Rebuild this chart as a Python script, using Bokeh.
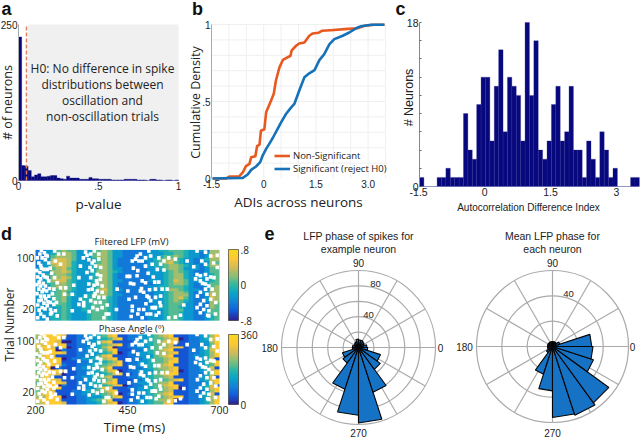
import numpy as np
from bokeh.embed import file_html
from bokeh.resources import INLINE
from bokeh.plotting import figure
from bokeh.layouts import column, row
from bokeh.models import (Range1d, FixedTicker, Label, LinearColorMapper, ColorBar,
                          Legend, LegendItem, BoxAnnotation)

# ---------- data ----------
pvalue_counts = [230,24,23,16,6,9,11,6,6,7,8,8,4,3,2,7,4,4,4,2,2,2,5,3,3,2,2,2,2,1,
                 1,1,1,2,2,2,2,1,1,1,0,2,2,1,1,0,1,1,0,1]
nonsig_adi = [-1.47,-1.08,-0.99,-0.70,-0.60,-0.51,-0.41,-0.36,-0.24,-0.19,-0.12,-0.08,0.02,0.07,0.21,0.29,0.35,
              0.45,0.55,0.77,0.80,0.93,1.02,1.17,1.31,1.41,1.57,1.67,1.93,2.32,2.70,2.89,3.18,3.47]
nonsig_cdf = [0,0,.013,.015,.04,.08,.095,.138,.145,.21,.22,.31,.32,.43,.505,.55,.635,
              .72,.77,.797,.83,.862,.877,.883,.927,.942,.946,.959,.963,.97,.976,.991,.998,.998]
sig_adi = [-1.47,-0.60,-0.46,-0.36,-0.22,-0.10,-0.03,0.07,0.16,0.26,0.40,0.50,0.64,0.79,0.88,1.02,1.17,1.31,
           1.46,1.60,1.74,1.89,2.03,2.27,2.46,2.70,2.80,3.08,3.47]
sig_cdf = [0,.004,.026,.056,.078,.106,.149,.192,.225,.263,.322,.365,.419,.462,.484,.57,.657,.683,
           .704,.769,.808,.873,.905,.927,.948,.981,.989,.998,.998]
adi_counts = [1,0,0,0,1,1,2,1,1,1,8,4,3,9,12,12,5,11,15,6,12,11,10,5,18,10,16,4,3,5,9,11,5,6,11,
              4,4,1,5,3,1,6,4,1,2,0,0,0,1,1]
lfp_rows = [
"223356553335565332222233445554333266","223456653335665332222233344554332366",
"223566653335665332222333455654332376","233677653334565322222334566543323466",
"233777643334565322222234567543323365","233677643334665322222334456654332466",
"333567543334565332222233456653332355","333667643344665432222233345654322355",
"334566543334565322222233345664323345","333667643334565322222223345664333345",
"334677543334565332222233345765333345","334566543344665322222223345665323355",
"333566543334565322222233445554322356","333456543334675332222233346654332366",
"333456433334565322222223345665323366","333556543345665332222223345666322376",
"333456433445554322222223345675322376","333456433445554322222233345654322366",
"333355433445554322222223345553322265","333345433445554322222233445543322265",
"333345433445554322222233345553322355","333345433345554322222223345543322355",
"333445433345554322222233345543322345","333445433345554322222233345543322345"]
phase_rows = [
"678887112233457811223345678111223468","668882112233345781223345567801223478",
"678870012233578111123345678811223368","778888112223456781223345667111222358",
"788718012233468011223335567881223468","678802112234457811122345678111223478",
"668887112233345801223345667811223468","578711112233578111223335678111233468",
"678880122334567811122345567811223471","668881112223345681223345568811223568",
"578872112234456781223345678111223458","678021122334568111122345667811223471",
"568887112233457801223335567801223468","678870112234345781122345678811222468",
"578111122334567111223345567111223471","668871112233456811122345456781223478",
"578887112234467811223335668111222368","678802112234345780122345678811223471",
"668881112233578111223345567801223478","578711122345567811123345567111222368",
"678811122334456801223345678111223471","668880112233345781122335567881223468",
"788871112234568111223345668011223468","678887112233467801223345578111223468"]
spike_time = [212,224,232,218,227,214,223,232,212,203,221,232,214,221,214,227,209,218,230,214,224,236,209,223,234,
  218,232,250,257,214,223,241,254,259,241,252,259,268,250,282,304,300,279,277,263,268,254,252,
  205,209,216,206,226,210,236,204,222,238,204,228,216,206,226,240,210,244,206,232,236,240,244,228,216,246,250,
  330,336,350,360,372,345,359,372,322,348,363,377,340,354,368,377,350,318,345,359,368,381,354,368,381,336,359,372,
  322,331,350,363,318,300,331,368,381,395,420,399,386,422,340,354,366,344,362,376,386,356,376,346,392,
  463,472,481,490,499,476,485,508,513,499,517,449,456,476,467,490,499,451,485,494,503,508,454,513,463,481,494,463,
  478,503,517,513,523,535,549,562,580,612,630,662,540,531,549,535,544,558,526,526,540,535,562,580,603,594,
  466,458,478,506,520,488,472,526,540,500,528,538,460,490,510,524,
  639,662,676,694,639,648,662,666,635,648,662,671,685,680,662,648,666,685,676,657,648,666,639,657,671,648,671,689,694,
  654,640,676,690,652,684,668]
spike_trial = [106,108,103,100,97,88,82,82,77,80,73,69,67,60,56,56,51,47,48,40,40,40,33,29,31,
  22,25,27,30,12,8,19,17,9,12,69,61,53,51,53,57,43,43,106,106,90,95,111,
  100,92,84,70,70,62,64,58,50,52,44,36,34,26,20,30,18,14,6,4,92,84,76,104,112,44,36,
  100,109,106,111,106,97,95,98,87,85,87,85,77,80,74,72,69,69,59,57,59,56,51,48,46,40,40,38,
  35,30,33,30,27,17,25,19,22,26,19,12,6,51,104,92,64,50,44,66,38,22,30,16,12,
  95,98,95,95,100,103,106,111,103,87,90,71,71,72,59,64,61,48,48,46,40,38,35,33,24,19,19,17,
  12,12,22,12,22,100,95,100,98,95,86,90,90,82,81,62,51,51,51,22,25,14,6,7,26,10,
  84,60,80,76,70,52,38,38,40,28,10,30,8,6,50,62,
  111,109,103,104,74,72,74,67,67,64,59,56,69,51,51,46,43,43,35,33,27,25,22,19,17,14,9,12,85,
  60,40,70,30,95,92,10]
rose1_r = [11,8,9,10,10,11,8,7,6,8,8,22,25,57,88,98,61,35,30,12]
rose2_r = [31,6,4,4,4,4,4,4,4,4,4,4,6,23,35,56,57,55,34,32]
rose1_rings = [20,40,60,80,100]
rose2_rings = [20,40,60]

# ---------- styles ----------
SANS = "Open Sans"
ARIAL = "Liberation Sans"
NAVY = "#08087E"
ORANGE = "#E8591F"
BLUE = "#1572B8"
PARULA = ["#2F1F8C","#0F5CDD","#1481D6","#06A4CA","#2EB7A4","#87BF77","#D1BB59","#FEC832","#F7D820"]


def make_palette(anchors, n=64):
    rgb = np.array([[int(a[i:i + 2], 16) for i in (1, 3, 5)] for a in anchors], float)
    pos = np.linspace(0, 1, len(anchors))
    t = np.linspace(0, 1, n)
    return ["#%02x%02x%02x" % tuple(int(round(np.interp(v, pos, rgb[:, c]))) for c in range(3)) for v in t]


PAL = make_palette(PARULA)


def canvas_fig(fig_left, fig_top, width, height, geom):
    """Figure whose frame fills its canvas, its ranges set so that the data box in geom lands
    at the given page pixels; its axes are pinned inside the frame."""
    l, r, t, b, x0, x1, y0, y1 = geom
    sx = (x1 - x0) / (r - l)
    sy = (y1 - y0) / (b - t)
    xr = (x0 + (fig_left - l) * sx, x0 + (fig_left + width - l) * sx)
    yr = (y0 + (b - (fig_top + height)) * sy, y0 + (b - fig_top) * sy)
    p = figure(width=width, height=height, output_backend="svg", toolbar_location=None,
               x_range=Range1d(*xr), y_range=Range1d(*yr),
               min_border=0, min_border_left=0, min_border_right=0, min_border_top=0, min_border_bottom=0,
               background_fill_color=None, border_fill_color=None, outline_line_color=None)
    p.grid.visible = False
    return p


def style_axis(ax, ticks, labels, location, bounds, font=ARIAL, size="10px", color="#222222"):
    ax.fixed_location = location
    ax.bounds = bounds
    ax.ticker = FixedTicker(ticks=ticks)
    ax.major_label_overrides = dict(zip(ticks, labels))
    ax.major_label_text_font = font
    ax.major_label_text_font_size = size
    ax.major_label_text_color = color
    ax.minor_tick_line_color = None
    ax.major_tick_line_color = None
    ax.major_tick_in = 0
    ax.major_tick_out = 0
    ax.minor_tick_in = 0
    ax.minor_tick_out = 0
    ax.axis_line_color = None
    ax.major_label_standoff = 1


def xlabel(ax, text, font=SANS, size="13.5px", standoff=3):
    ax.axis_label = text
    ax.axis_label_text_font = font
    ax.axis_label_text_font_size = size
    ax.axis_label_text_font_style = "normal"
    ax.axis_label_text_color = "#222222"
    ax.axis_label_standoff = standoff


def put(p, geom, px, py, text, size="13px", font=SANS, angle=0, style="normal", align="center", color="#222222"):
    l, r, t, b, x0, x1, y0, y1 = geom
    x = x0 + (px - l) / (r - l) * (x1 - x0)
    y = y0 + (b - py) / (b - t) * (y1 - y0)
    p.add_layout(Label(x=x, y=y, text=text, text_font=font, text_font_size=size, text_font_style=style,
                       text_align=align, text_baseline="middle", angle=angle, angle_units="deg",
                       text_color=color))


# ---------- a ----------
geom_a = (18, 178, 24, 180, 0, 1, 0, 250)
a = canvas_fig(0, 0, 185, 225, geom_a)
a.add_layout(BoxAnnotation(left=0.06, right=1, bottom=0, top=250, fill_color="#F0F0F0", fill_alpha=1,
                           line_color=None, level="underlay"))
edges = np.arange(len(pvalue_counts) + 1) * 0.02
a.quad(left=edges[:-1], right=edges[1:], bottom=0, top=pvalue_counts, fill_color=NAVY, line_color=NAVY, line_width=0.3)
a.segment(x0=[0.05], y0=[0], x1=[0.05], y1=[250], line_color="#E0805F", line_width=1.5, line_dash="4 2")
style_axis(a.xaxis[0], [0, 0.5, 1], ["0", ".5", "1"], 0, (0, 1))
style_axis(a.yaxis[0], [0, 250], ["0", "250"], 0, (0, 250))
a.yaxis[0].axis_line_color = "#AAAAAA"
xlabel(a.xaxis[0], "p-value", standoff=2)
for i, line in enumerate(["H0: No difference in spike", "distributions between", "oscillation and", "non-oscillation trials"]):
    put(a, geom_a, 102, 68 + 16 * i, line, size="12px")
put(a, geom_a, 7, 102, "# of neurons", angle=90, size="12.5px")
put(a, geom_a, 6, 8, "a", size="18px", style="bold", font=ARIAL, color="#111111")

# ---------- b ----------
geom_b = (211, 385, 24, 178, -1.5, 3.5, 0, 1)
b = canvas_fig(185, 0, 207, 225, geom_b)
grid_x = np.arange(-1, 3.6, 0.5)
grid_y = np.arange(0.1, 1.01, 0.1)
b.segment(x0=grid_x, y0=0 * grid_x, x1=grid_x, y1=0 * grid_x + 1, line_color="#EFEFEF", line_width=1)
b.segment(x0=-1.5 + 0 * grid_y, y0=grid_y, x1=3.5 + 0 * grid_y, y1=grid_y, line_color="#EFEFEF", line_width=1)
r1 = b.line(nonsig_adi, nonsig_cdf, line_color=ORANGE, line_width=2.6, line_join="round")
r2 = b.line(sig_adi, sig_cdf, line_color=BLUE, line_width=2.6, line_join="round")
style_axis(b.xaxis[0], [-1.5, 0, 1.5, 3], ["-1.5", "0", "1.5", "3.0"], 0, (-1.5, 3.5))
style_axis(b.yaxis[0], [0, 0.5, 1], ["0", ".5", "1"], -1.5, (0, 1))
b.yaxis[0].axis_line_color = "#AAAAAA"
xlabel(b.xaxis[0], "ADIs across neurons", standoff=2)
leg = Legend(items=[LegendItem(label="Non-Significant", renderers=[r1]),
                    LegendItem(label="Significant (reject H0)", renderers=[r2])],
             location=(89, 50), background_fill_alpha=0, border_line_alpha=0, padding=0, margin=0,
             glyph_width=16, glyph_height=11, spacing=-1, label_standoff=3,
             label_text_font=SANS, label_text_font_size="9.5px", label_text_color="#222222",
             label_height=11)
b.add_layout(leg)
put(b, geom_b, 195, 102, "Cumulative Density", angle=90, size="12.5px")
put(b, geom_b, 197, 8, "b", size="18px", style="bold", font=ARIAL, color="#111111")

# ---------- c ----------
geom_c = (419, 638, 22, 186, -1.48, 3.5, 0, 18)
c = canvas_fig(392, 0, 248, 225, geom_c)
c_edges = -1.48 + np.arange(len(adi_counts) + 1) * 0.1
c.quad(left=c_edges[:-1], right=c_edges[1:], bottom=0, top=adi_counts, fill_color=NAVY, line_color="#2A2A90", line_width=0.3)
style_axis(c.xaxis[0], [-1.5, 0, 1.5, 3], ["-1.5", "0", "1.5", "3"], 0, (-1.5, 3.5), size="10.5px")
y_ticks = list(range(0, 19, 2))
style_axis(c.yaxis[0], y_ticks, ["0"] + [""] * 8 + ["18"], -1.48, (0, 18), size="10.5px")
c.yaxis[0].major_tick_line_color = "#666666"
c.yaxis[0].major_tick_in = 2
c.yaxis[0].major_tick_out = 0
c.yaxis[0].axis_line_color = "#888888"
xlabel(c.xaxis[0], "Autocorrelation Difference Index", font=ARIAL, size="10px", standoff=3)
put(c, geom_c, 408, 97, "# Neurons", angle=90, font=ARIAL, size="12.5px")
put(c, geom_c, 400, 8, "c", size="18px", style="bold", font=ARIAL, color="#111111")

# ---------- d ----------
y_scale = 0.6375
upper_offset = 130
geom_d = (35, 219, 249, 404, 200, 700, 0, 155 / y_scale)
d = canvas_fig(0, 225, 262, 212, geom_d)
lfp = np.array([[int(ch) for ch in r] for r in lfp_rows], float)[::-1] / 9 * 1.6 - 0.8
phase = np.array([[int(ch) for ch in r] for r in phase_rows], float)[::-1] / 9 * 360
m1 = LinearColorMapper(palette=PAL, low=-0.8, high=0.8)
m2 = LinearColorMapper(palette=PAL, low=0, high=360)
d.image(image=[lfp], x=200, y=upper_offset + 1.5, dw=500, dh=111, color_mapper=m1)
d.image(image=[phase], x=200, y=0, dw=500, dh=110, color_mapper=m2)
st = np.array(spike_time, float)
tr = np.array(spike_trial, float)
d.scatter(st, tr + upper_offset, marker="square", size=3.6, fill_color="white", line_color=None)
d.scatter(st, tr - 1, marker="square", size=3.6, fill_color="white", line_color=None)
style_axis(d.xaxis[0], [200, 450, 700], ["200", "450", "700"], 0, (200, 738), font=SANS, size="10.5px")
style_axis(d.yaxis[0], [19, 99, 20 + upper_offset, 100 + upper_offset], ["20", "100", "20", "100"], 200,
           (0, 155 / y_scale), font=SANS, size="10.5px")
xlabel(d.xaxis[0], "Time (ms)", standoff=1)
for mapper, ticks, labels, loc, h in [(m1, [-0.8, 0, 0.8], ["-.8", "0", ".8"], (228, 117), 71),
                                      (m2, [0, 360], ["0", "360"], (228, 33), 70)]:
    d.add_layout(ColorBar(color_mapper=mapper, location=loc, width=10, height=h, padding=0, margin=0,
                          ticker=FixedTicker(ticks=ticks), major_label_overrides=dict(zip(ticks, labels)),
                          major_label_text_font=SANS, major_label_text_font_size="10px",
                          major_label_text_color="#222222", major_tick_line_color=None,
                          bar_line_color="#222222", bar_line_width=0.6, label_standoff=2,
                          background_fill_alpha=0, border_line_color=None))
put(d, geom_d, 131, 241, "Filtered LFP (mV)", size="9.5px")
put(d, geom_d, 131, 328, "Phase Angle (\u00ba)", size="9.5px")
put(d, geom_d, 6, 233, "d", size="18px", style="bold", font=ARIAL, color="#111111")
put(d, geom_d, 9, 324, "Trial Number", angle=90, size="12px")


# ---------- e ----------
def rose(width, cx, cy, fig_left, scale, rings, spoke_r, counts, tick_labels, title_lines):
    geom = (cx - 50, cx + 50, cy - 50, cy + 50, -50 / scale, 50 / scale, -50 / scale, 50 / scale)
    p = canvas_fig(fig_left, 225, width, 212, geom)
    p.xaxis.visible = False
    p.yaxis.visible = False
    p.circle(x=[0] * len(rings), y=[0] * len(rings), radius=rings, fill_color=None, line_color="#AAAAAA", line_width=1.2)
    ang = np.deg2rad(np.arange(0, 360, 30))
    p.segment(x0=0, y0=0, x1=spoke_r * np.cos(ang), y1=spoke_r * np.sin(ang), line_color="#AAAAAA", line_width=1.2)
    n = len(counts)
    w = 2 * np.pi / n
    xs = [[0, v * np.cos(i * w), v * np.cos((i + 1) * w)] for i, v in enumerate(counts)]
    ys = [[0, v * np.sin(i * w), v * np.sin((i + 1) * w)] for i, v in enumerate(counts)]
    p.patches(xs, ys, fill_color="#1572C4", line_color="#050505", line_width=1.1)
    for (val, ang_deg, off) in tick_labels:
        th = np.deg2rad(ang_deg)
        put(p, geom, cx + (spoke_r * scale + off) * np.cos(th), cy - (spoke_r * scale + off) * np.sin(th), val,
            size="10px", font=ARIAL)
    for i, line in enumerate(title_lines):
        put(p, geom, cx, 235 + 13 * i, line, size="10.5px", font=ARIAL)
    return p, geom


e1, geom_e1 = rose(190, 358, 347, 262, 0.77, rose1_rings, 100, rose1_r,
                   [("90", 90, 8), ("270", 270, 8), ("0", 0, 5), ("180", 180, 12)],
                   ["LFP phase of spikes for", "example neuron"])
put(e1, geom_e1, 368, 314, "40", size="9.5px", font=ARIAL)
put(e1, geom_e1, 375, 283, "80", size="9.5px", font=ARIAL)
put(e1, geom_e1, 269, 233, "e", size="18px", style="bold", font=ARIAL, color="#111111")
e2, geom_e2 = rose(188, 552, 346, 452, 76 / 60, rose2_rings, 60, rose2_r,
                   [("90", 90, 8), ("270", 270, 10), ("0", 0, 4), ("180", 180, 12)],
                   ["Mean LFP phase for", "each neuron"])
put(e2, geom_e2, 568, 293, "40", size="9.5px", font=ARIAL)

layout = column(row(column(a), column(b), column(c), spacing=0),
                row(column(d), column(e1), column(e2), spacing=0), spacing=0,
                styles={"position": "absolute", "left": "0px", "top": "0px"})
open("out.html", "w").write(file_html(layout, INLINE))
